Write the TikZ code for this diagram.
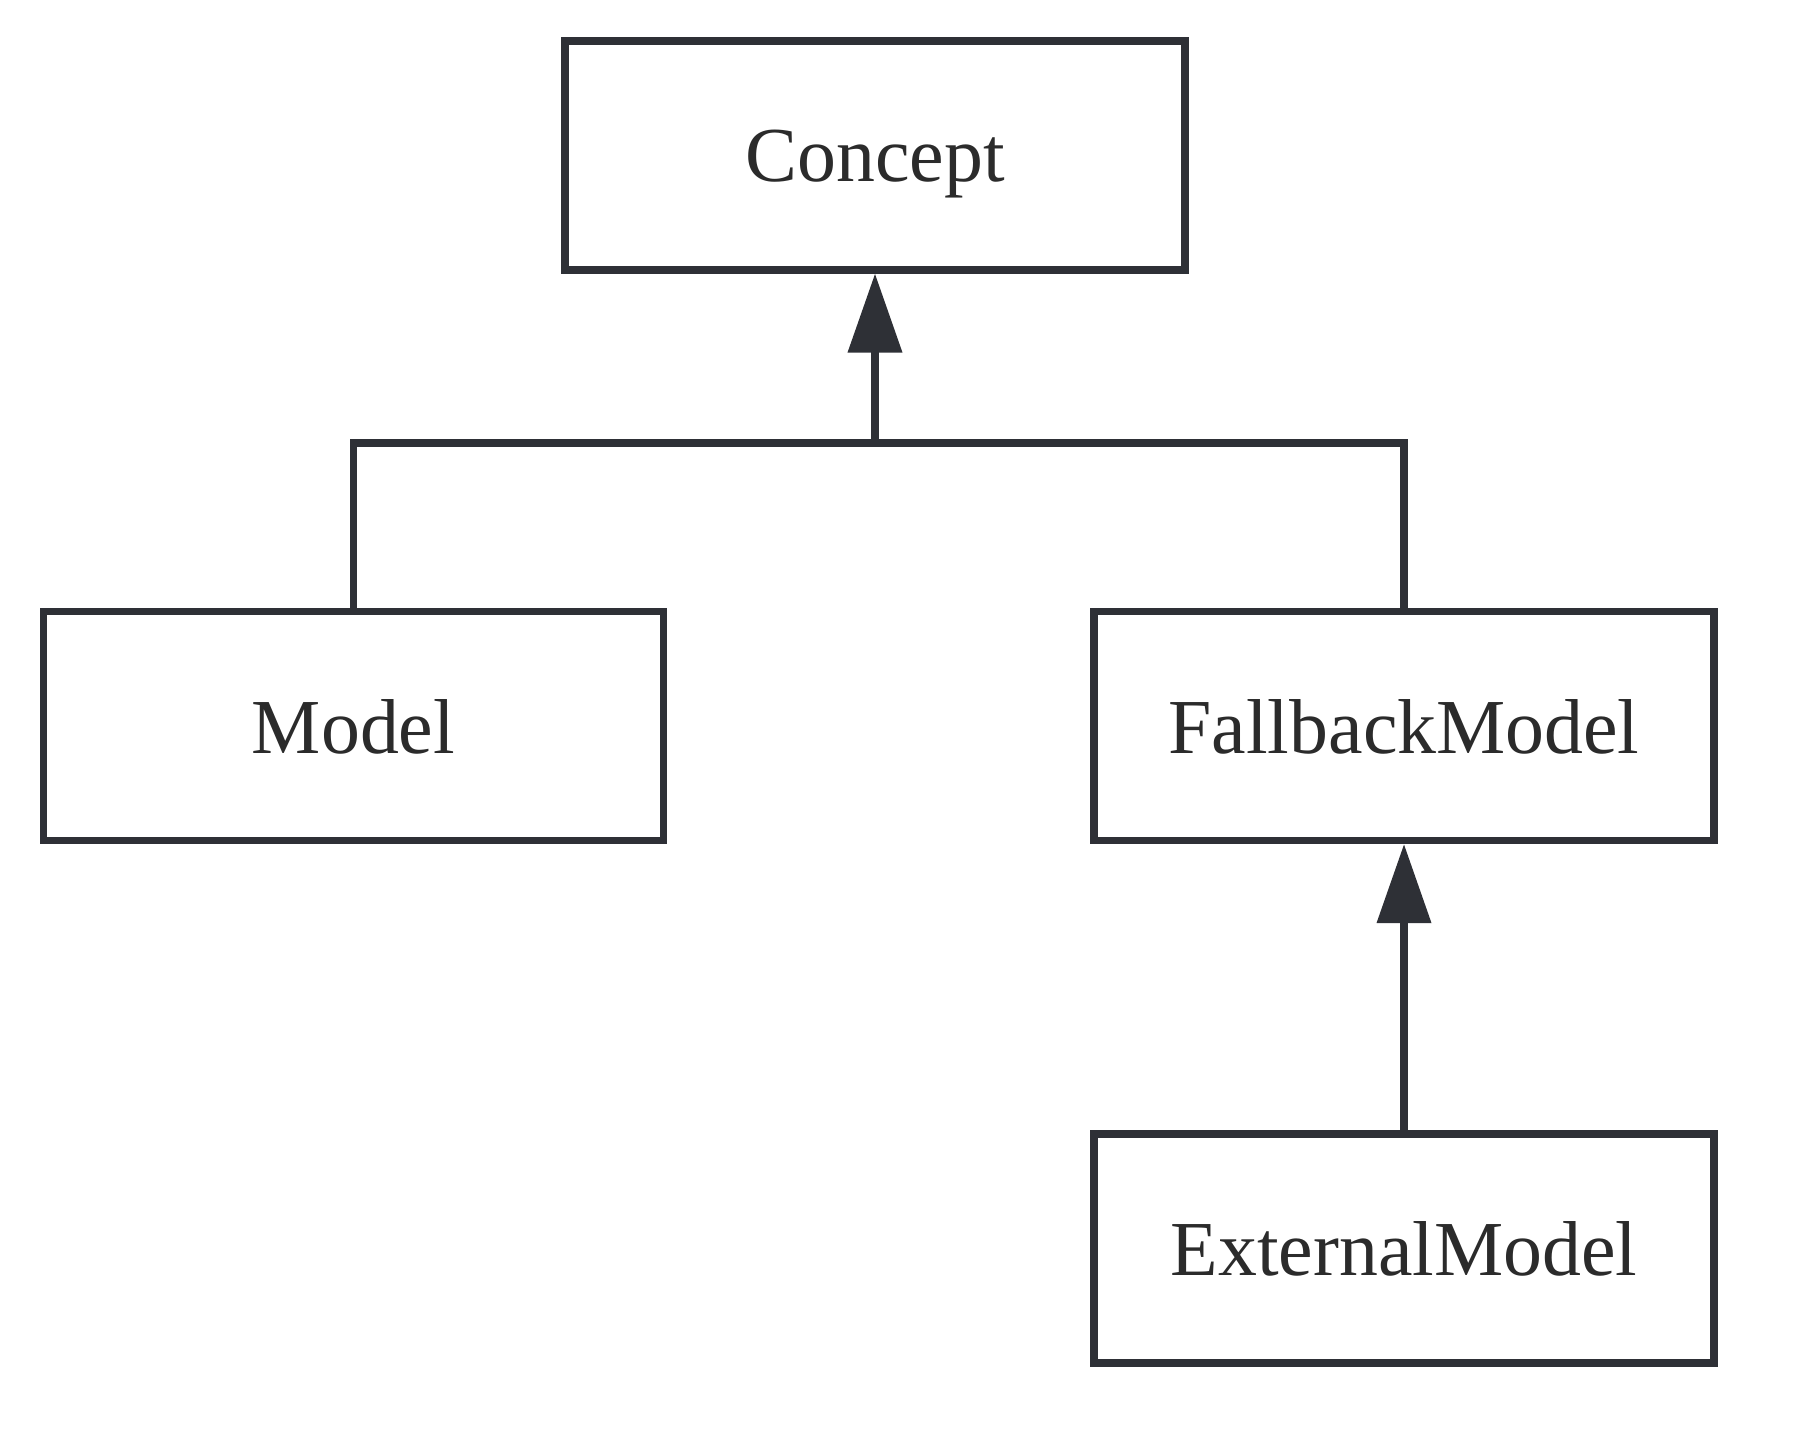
\documentclass[tikz,border=0pt]{standalone}
\usepackage{fontspec}
\setmainfont{Liberation Serif}
\usetikzlibrary{arrows.meta}
\definecolor{ink}{HTML}{2E3036}
\definecolor{txt}{HTML}{2B2B2B}
\tikzset{
  cls/.style={draw=ink, line width=3.6pt, rectangle, minimum width=310pt, minimum height=114.5pt, inner sep=0pt, text=txt, text depth=0pt, font=\fontsize{38.9}{46}\selectfont},
  conn/.style={draw=ink, line width=3.6pt},
  inh/.style={conn, -{Triangle[length=39.5pt,width=26.5pt]}, fill=ink}
}
\begin{document}
\begin{tikzpicture}[x=0.5pt,y=-0.5pt]
\useasboundingbox (0,0) rectangle (1794,1440);
\node[cls] (concept) at (875,155.5) {Concept};
\node[cls] (model) at (353.5,726) {Model};
\node[cls] (fallback) at (1404,726) {FallbackModel};
\node[cls] (external) at (1404,1248.5) {ExternalModel};
\coordinate (j) at (875,443);
\draw[conn] (model.north) |- (j) -| (fallback.north);
\draw[inh] (j) -- (concept.south);
\draw[inh] (external.north) -- (fallback.south);
\end{tikzpicture}
\end{document}
